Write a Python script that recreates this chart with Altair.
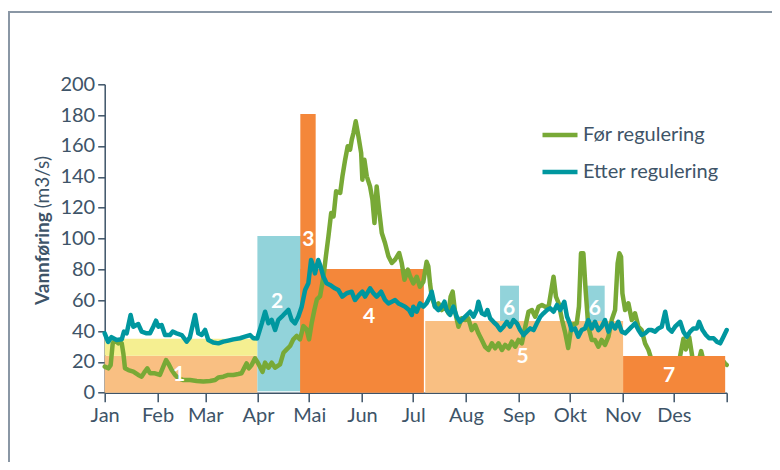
import altair as alt
import pandas as pd

# ---------------- data ----------------
month_names = ["Jan", "Feb", "Mar", "Apr", "Mai", "Jun", "Jul", "Aug", "Sep", "Okt", "Nov", "Des"]
month_start = [0, 31, 59, 90, 120, 151, 181, 212, 243, 273, 304, 334]
year_end = 365
y_ticks = [0, 20, 40, 60, 80, 100, 120, 140, 160, 180, 200]

series_names = ["Før regulering", "Etter regulering"]

for_day = [0, 2.1, 3.5, 4.7, 5.5, 7, 8, 9, 10, 11, 11.9, 13.9, 16.8, 19.7, 21.7, 23.6, 25, 26.6, 29.5, 32.4,
           34.4, 36, 37.3, 39.3, 41.3, 43.2, 46.2, 50.1, 54, 57.9, 61.8, 64.8, 66.7, 69.6, 72.5, 75.5, 78.4,
           80.3, 82.3, 83.3, 84.6, 86.2, 88.2, 89.5, 91.1, 92.6, 94.1, 96.1, 98, 100, 102.9, 104.9, 106.8,
           108.8, 110.7, 112.7, 114.6, 116.6, 118.5, 119.9, 121.5, 123.1, 124.5, 126.4, 128.4, 129.8, 131.3,
           132.9, 134.3, 135.8, 138.2, 139.5, 141.1, 142.6, 144, 145, 146, 147.3, 148.9, 150.5, 151.2, 152.4,
           153.8, 155.7, 157.1, 158.3, 159.6, 161, 162.6, 164.5, 166.5, 168.5, 170.4, 172.8, 174.3, 175.9,
           177.9, 179.2, 181.1, 183.1, 185, 187, 188.9, 189.9, 190.9, 191.9, 193.8, 195.8, 197.8, 199.7,
           201.7, 203, 204.2, 205.6, 207.6, 209.5, 211.5, 213.4, 215.4, 217.4, 219.3, 221.3, 223.2, 225.2,
           227.2, 229.1, 231.1, 233.1, 235, 237, 238.9, 240.9, 242.8, 244.8, 246.8, 248.7, 250.7, 252.6,
           254.6, 256.6, 258.5, 260.5, 262.4, 263.4, 264.8, 266.4, 268.4, 270.3, 272, 274, 277, 278.3, 279.5,
           280.9, 282.2, 283.8, 285.8, 287.7, 289.7, 291.6, 293.6, 295.6, 297.5, 299.5, 301, 302, 303, 303.8,
           305.4, 307.3, 309.3, 311.2, 313.2, 315.1, 317.1, 319.1, 321, 324, 328, 333, 337, 339.6, 341, 343,
           345, 348, 350, 352, 356, 360, 362, 364, 365]
for_val = [16.9, 15.8, 17.9, 32, 33, 33, 32, 33, 32, 25, 15.8, 14.7, 13.7, 11.5, 10.4, 13.7, 15.8, 12.6, 12.6,
           11.5, 16.9, 21.2, 19, 14.7, 11.5, 9.4, 8.2, 8.2, 7.6, 7.2, 7.6, 8.2, 9.9, 10.4, 11.5, 11.5, 12.1,
           12.6, 16.9, 19, 15.8, 17.9, 22.3, 20.1, 16.9, 13.5, 19.5, 16.2, 19.5, 16.2, 18.4, 25.9, 28.1, 30.3,
           34.6, 36.8, 34.6, 43.2, 41.1, 34.6, 45.4, 54, 60.5, 62.6, 75.5, 88.5, 101.5, 116.6, 114.4, 130.6,
           129.5, 140.3, 151.1, 159.8, 157.6, 164.1, 168.4, 176, 166.2, 155.4, 138.1, 151.1, 140.3, 133.8,
           125.2, 110, 133.8, 118.7, 103.6, 97.1, 88.5, 84.1, 86.3, 90.6, 84.1, 73.3, 79.8, 75.5, 70.9, 75.2,
           68.7, 72, 84.9, 82, 70.9, 62.3, 55.8, 58, 53.6, 55.8, 51.5, 62.3, 65.5, 52.5, 42.8, 48.2, 47.1, 48.2,
           40.6, 43.9, 38.5, 34.2, 29.8, 27.7, 32, 28.8, 32, 27.7, 31, 28.8, 33.1, 29.8, 34.2, 32, 42.8, 52.5,
           53.6, 49.3, 55.8, 56.9, 55.8, 55.8, 68.7, 75.2, 62.3, 58, 47.1, 38.5, 29, 43.9, 45, 55.8, 90.4, 90.4,
           66.6, 42.8, 34.2, 34.2, 29.8, 34.2, 31, 36.3, 47.1, 53.6, 83.9, 90.4, 88.2, 64.4, 53.6, 58, 47.1,
           51.5, 42.8, 40.6, 32, 27.7, 21, 17, 15, 16, 20, 35, 28, 36, 22, 18, 27, 18, 16, 17, 22, 19, 18]

etter_day = [0, 2, 4, 7, 10, 11.3, 12.9, 15.2, 16.8, 19.7, 21.7, 24.6, 26.6, 28.5, 30.1, 31.5, 33.4, 35.4, 38.3,
             39.9, 42.2, 45.2, 48.1, 50, 53, 54.9, 56.9, 58.9, 60.8, 63.7, 66.7, 69.6, 72.5, 75.5, 79.4, 82.3,
             85.3, 87.2, 89.5, 92.2, 94.1, 96.1, 98, 100, 101.9, 103.9, 105.8, 107.8, 109.7, 111.7, 113.6,
             115.6, 117.6, 119.5, 121.1, 122.4, 123.4, 125.3, 126.7, 128.3, 130.2, 132.2, 135.1, 137.1, 139.4,
             142, 144.9, 146.9, 149.3, 151.2, 152.8, 155.7, 157.7, 159.6, 162.2, 164.5, 166.5, 168.5, 170.4,
             172.4, 174.3, 176.3, 178.6, 180.2, 181.1, 183.1, 185, 187, 188.9, 190.9, 191.9, 193.8, 195.8, 197.8,
             199.4, 200.7, 202.7, 204.6, 206.6, 208.5, 210.5, 212.5, 214.4, 216.4, 218.3, 219.3, 221.3, 223.2,
             224.6, 226.2, 228.1, 230.1, 232.1, 234, 236, 237.9, 239.9, 241.9, 243.8, 245.8, 247.7, 249.7,
             251.7, 253.6, 255.6, 257.5, 259.5, 261.5, 263.4, 265.4, 267.3, 269.7, 271.3, 272.9, 274, 276,
             277.9, 279.9, 281.9, 283.8, 285.8, 287.7, 289.7, 291.6, 293.6, 295.6, 297.5, 299.5, 301.4, 303.4,
             305.4, 307.3, 309.3, 311.2, 313.2, 315.1, 317.1, 319.1, 321, 323, 324.9, 326.9, 328.9, 330.8,
             332.8, 334.7, 337.7, 339.6, 341.6, 343.5, 345.5, 347.5, 348.8, 350.8, 352.8, 354.7, 357.3, 359.2,
             361.2, 363.1, 365]
etter_val = [38.5, 33, 36, 34.2, 34.6, 39.6, 38.5, 50.4, 42.8, 44.5, 39.6, 38.5, 38.5, 42.8, 46.7, 42.8, 43.9,
             37.4, 37.4, 39.6, 38.5, 37.4, 33.1, 35.9, 50.4, 38.5, 37.4, 40.7, 34.2, 32.5, 32, 33.1, 33.8, 34.6,
             35.3, 36.3, 37.4, 35.3, 35.2, 45, 52.5, 45, 47.2, 40.7, 47.2, 49.3, 51.5, 53.7, 47.2, 45, 49.3,
             55.8, 66.6, 71, 86.1, 81.8, 77.4, 86.1, 81.8, 75.3, 71, 69.9, 67.7, 66.6, 62.3, 64.5, 65.5, 60.1,
             63.4, 65.5, 62.3, 67.7, 64.5, 62.3, 65.5, 60.1, 57.9, 59, 60.1, 57.9, 56.9, 55.8, 53.7, 50.4, 55.8,
             52.5, 58, 55.8, 58, 62.3, 65.5, 55.8, 53.6, 55.8, 59, 53.6, 50.4, 55.8, 49.3, 46, 48.2, 50.4, 52.5,
             49.3, 53.6, 59, 51.5, 50.4, 53.6, 48.2, 46, 43.9, 40.6, 42.8, 46, 42.8, 47.1, 45, 40.6, 37.4, 39.6,
             41.7, 40.6, 45, 49.3, 51.5, 53.6, 54.7, 52.5, 56.9, 53.6, 59, 49.3, 45, 40.6, 41.7, 36.3, 40.6,
             41.7, 47.1, 41.7, 46, 40.6, 42.8, 47.1, 39.6, 45, 41.7, 46, 39.6, 38.5, 40.6, 42.8, 45, 40.6, 37.4,
             38.5, 40.6, 40.6, 39.6, 41.7, 42.8, 52.5, 41.7, 39.6, 42.8, 46, 39.6, 36.3, 39.6, 41.7, 41.7, 46,
             40.6, 37.4, 35.3, 35.3, 33.1, 32, 36.3, 40.6]

# periods (shaded blocks)
period_start = [0, 0, 89.6, 114.8, 114.8, 188.1, 232, 282.3, 304.2]
period_end = [89.6, 89.6, 115.6, 123.8, 187.3, 304.2, 243.1, 293.4, 364.1]
period_low = [0, 24, 1, 0, 0, 0, 46.5, 46.5, 0]
period_high = [24, 35, 101.6, 180.7, 80.2, 46.5, 69.4, 69.4, 23.8]
period_kind = ["lav", "mellom", "vår", "flom", "flom", "sommer", "høst", "høst", "vinter"]

label_text = ["1", "2", "3", "4", "5", "6", "6", "7"]
label_day = [43.6, 101.1, 119.5, 155.1, 245.2, 237.3, 287.6, 331.2]
label_val = [11.5, 59, 99, 49, 23, 54.3, 54.3, 11]

# ---------------- styling ----------------
C_TEXT = "#3e5468"
C_GREEN = "#78a936"
C_TEAL = "#00979f"
C_PEACH = "#f9bf82"
C_YELLOW = "#f5ef91"
C_ORANGE = "#f4873a"
C_LBLUE = "#92d3da"
FONT = "Lato"

W, H = 622, 308.4
PAD = {"left": 96.7, "top": 76.3, "right": 45.3, "bottom": 69.3}

lines_df = pd.concat([
    pd.DataFrame({"day": for_day, "val": for_val, "serie": series_names[0]}),
    pd.DataFrame({"day": etter_day, "val": etter_val, "serie": series_names[1]}),
], ignore_index=True)

periods_df = pd.DataFrame({"start": period_start, "end": period_end, "low": period_low,
                           "high": period_high, "kind": period_kind})
labels_df = pd.DataFrame({"day": label_day, "val": label_val, "txt": label_text})

label_expr = ("datum.value >= %d ? '' : %s[indexof(%s, datum.value)]"
              % (year_end, str(month_names), str(month_start)))

x_scale = alt.Scale(domain=[0, year_end], nice=False, zero=False)
y_scale = alt.Scale(domain=[0, 200], nice=False)
x_axis = alt.Axis(values=month_start + [year_end], labelExpr=label_expr, title=None,
                  tickSize=9, labelPadding=4, labelFlush=False, labelOverlap=False)
y_axis = alt.Axis(values=y_ticks, title=None, tickSize=7, labelPadding=3)

kind_scale = alt.Scale(domain=["lav", "mellom", "vår", "flom", "sommer", "høst", "vinter"],
                       range=[C_PEACH, C_YELLOW, C_LBLUE, C_ORANGE, C_PEACH, C_LBLUE, C_ORANGE])

rect_base = alt.Chart(periods_df).mark_rect().encode(
    x=alt.X("start:Q", scale=x_scale, axis=x_axis),
    x2="end:Q",
    y=alt.Y("low:Q", scale=y_scale, axis=y_axis),
    y2="high:Q",
    fill=alt.Fill("kind:N", scale=kind_scale, legend=None),
)
rects_under = rect_base.transform_filter(alt.datum.kind != "vinter")
rects_over = rect_base.transform_filter(alt.datum.kind == "vinter")

lines = alt.Chart(lines_df).mark_line(strokeWidth=4.5, strokeJoin="round", strokeCap="round").encode(
    x=alt.X("day:Q", scale=x_scale, axis=x_axis),
    y=alt.Y("val:Q", scale=y_scale, axis=y_axis),
    color=alt.Color("serie:N",
                    scale=alt.Scale(domain=series_names, range=[C_GREEN, C_TEAL]),
                    sort=series_names,
                    legend=alt.Legend(orient="none", legendX=435.3, legendY=30.8, title=None,
                                      symbolType="stroke", symbolSize=1225, symbolStrokeWidth=4.5,
                                      labelFont=FONT, labelFontSize=20, labelColor=C_TEXT,
                                      labelOffset=3, rowPadding=6.9, padding=0)),
    order="day:Q",
)

labels = alt.Chart(labels_df).mark_text(font=FONT, fontWeight="bold", fontSize=21, color="white",
                                        baseline="middle", align="center").encode(
    x=alt.X("day:Q", scale=x_scale, axis=x_axis),
    y=alt.Y("val:Q", scale=y_scale, axis=y_axis),
    text="txt:N",
)

# y-axis title in two styles
title_bold = alt.Chart(pd.DataFrame({"t": ["Vannføring"]})).mark_text(
    font=FONT, fontWeight="bold", fontSize=19, color=C_TEXT, angle=270, align="left", baseline="middle"
).encode(x=alt.value(-61.2), y=alt.value(220.7), text="t:N")
title_unit = alt.Chart(pd.DataFrame({"t": ["(m3/s)"]})).mark_text(
    font=FONT, fontSize=19, color=C_TEXT, angle=270, align="right", baseline="middle"
).encode(x=alt.value(-61.2), y=alt.value(71.7), text="t:N")

# frame around the figure
one = pd.DataFrame({"k": [0]})
frame_left = alt.Chart(one).mark_rule(color="#8a97a5", strokeWidth=2).encode(
    x=alt.value(-95.7), y=alt.value(-72.3), y2=alt.value(377.7))
frame_top = alt.Chart(one).mark_rule(color="#8a97a5", strokeWidth=2).encode(
    x=alt.value(-96.7), x2=alt.value(667.3), y=alt.value(-72.3))

chart = alt.layer(
    frame_left, frame_top, rects_under, lines, rects_over, labels, title_bold, title_unit
).properties(
    width=W, height=H, padding=PAD, autosize=alt.AutoSizeParams(type="none"),
    background="white",
).configure_view(stroke=None).configure_axis(
    grid=False, domainColor=C_TEXT, domainWidth=1.5, tickColor=C_TEXT, tickWidth=1.5,
    labelColor=C_TEXT, labelFont=FONT, labelFontSize=20,
)

chart.save("out.html", embed_options={"renderer": "svg", "actions": False})
